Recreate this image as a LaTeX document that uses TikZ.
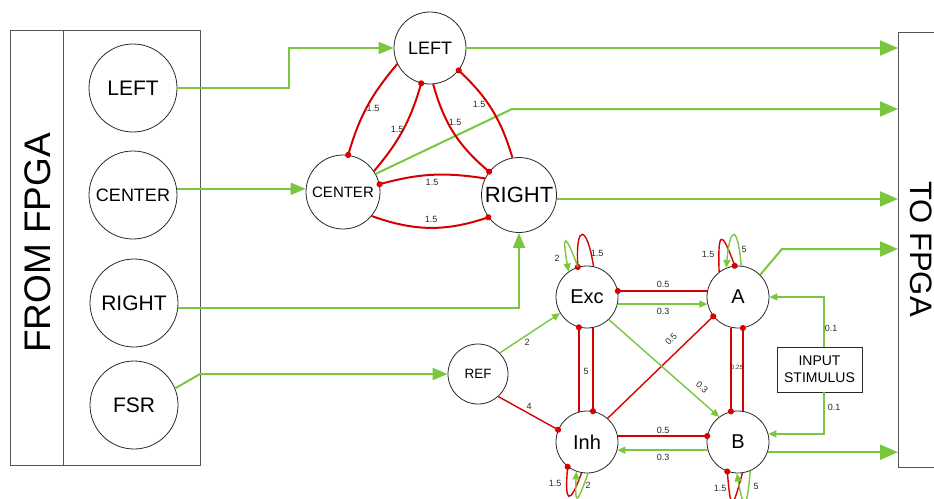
\documentclass[tikz,border=0pt]{standalone}
\usepackage{fontspec}
\setmainfont{Liberation Sans}
\usetikzlibrary{arrows.meta,calc}

\definecolor{syngreen}{RGB}{122,198,62}
\definecolor{synred}{RGB}{214,0,0}
\definecolor{ink}{RGB}{40,40,40}
\newcommand\fsz[1]{\fontsize{#1}{#1}\selectfont}

\begin{document}
\begin{tikzpicture}[x=1pt,y=1pt,
  neuron/.style={circle,draw=ink,line width=0.8pt,inner sep=0pt,text=black,fill=white},
  panel/.style={draw=ink!80,line width=0.9pt,inner sep=0pt},
  lbl/.style={font=\fsz{9},text=ink,inner sep=0pt},
  feed/.style={draw=syngreen,line width=2pt,-{Triangle[length=15pt,width=12pt]}},
  tofpga/.style={draw=syngreen,line width=2pt,-{Triangle[length=18pt,width=15pt]}},
  tri/.style={draw=synred,line width=2pt,-{Circle[length=6pt]},shorten >=-3pt},
  excs/.style={draw=syngreen,line width=1.4pt,-{Triangle[length=8pt,width=7pt]}},
  inhs/.style={draw=synred,line width=1.4pt,-{Circle[length=6pt]},shorten >=-3pt},
]
\useasboundingbox (0,0) rectangle (934,-498);

% FPGA blocks
\node[panel,minimum width=190pt,minimum height=435pt,anchor=north west] (from) at (10,-30) {};
\draw[panel] ([xshift=53pt]from.north west) -- ([xshift=53pt]from.south west);
\node[rotate=90,font=\fsz{37},inner sep=0pt] (fromlbl) at (37.5,-243) {FROM FPGA};
\node[panel,minimum width=60pt,minimum height=435pt,anchor=north west] (to) at (898,-32) {};
\node[rotate=-90,font=\fsz{31},inner sep=0pt] (tolbl) at (921,-249) {TO FPGA};

% input neurons driven by the FPGA
\node[neuron,minimum size=88pt,font=\fsz{21}] (inL) at (133,-88) {LEFT};
\node[neuron,minimum size=88pt,font=\fsz{18}] (inC) at (133,-195) {CENTER};
\node[neuron,minimum size=88pt,font=\fsz{21}] (inR) at (134,-303) {RIGHT};
\node[neuron,minimum size=88pt,font=\fsz{21}] (inF) at (134,-405) {FSR};

% winner-take-all triangle
\node[neuron,minimum size=72pt,font=\fsz{18}] (L) at (430,-48) {LEFT};
\node[neuron,minimum size=74pt,font=\fsz{15}] (C) at (343,-192) {CENTER};
\node[neuron,minimum size=75pt,font=\fsz{22}] (R) at (519,-195) {RIGHT};

% excitatory / inhibitory network
\node[neuron,minimum size=62pt,font=\fsz{20}] (Exc) at (587,-297) {Exc};
\node[neuron,minimum size=62pt,font=\fsz{20}] (A) at (738,-297) {A};
\node[neuron,minimum size=62pt,font=\fsz{20}] (Inh) at (587,-442) {Inh};
\node[neuron,minimum size=62pt,font=\fsz{20}] (B) at (738,-442) {B};
\node[neuron,minimum size=60pt,font=\fsz{13.5}] (REF) at (478,-374) {REF};
\node[draw=ink,line width=0.8pt,minimum width=85pt,minimum height=45pt,align=center,
      font=\fontsize{14}{17}\selectfont,inner sep=0pt,fill=white] (stim) at (819.5,-369.5) {INPUT\\STIMULUS};

% bend points
\coordinate (bL) at (289,-68);
\coordinate (bF) at (200,-374);
\coordinate (bC) at (512,-109);
\coordinate (bA) at (782,-249);

% inputs from the FPGA
\draw[feed] (inL.east) -| (bL) |- (L.west);
\draw[feed] (inC.8) -- (inC.8 -| C.west);
\draw[feed] (inR.-6) -| (R.south);
\draw[feed] (inF.22) -- (bF) -- (REF.west);

% outputs to the FPGA
\draw[tofpga] (L.east) -- (L.east -| to.west);
\draw[tofpga] (C.29) -- (bC) -- (bC -| to.west);
\draw[tofpga] (R.-6) -- (R.-6 -| to.west);
\draw[tofpga] (A.45) -- (bA) -- (bA -| to.west);
\draw[tofpga] (B.-19) -- (B.-19 -| to.west);

% mutual inhibition in the triangle
\draw[tri] (L.206) to[bend right=12] (C.82);
\draw[tri] (C.34) to[bend right=12] (L.256);
\draw[tri] (L.275) to[bend right=17] (R.142);
\draw[tri] (R.100) to[bend right=15] (L.322);
\draw[tri] (R.154) to[bend right=12] (C.12);
\draw[tri] (C.-40) to[bend right=19] (R.216);
\node[lbl] (t1) at (373,-108) {1.5};
\node[lbl] (t2) at (397,-129) {1.5};
\node[lbl] (t3) at (455,-122) {1.5};
\node[lbl] (t4) at (479,-104) {1.5};
\node[lbl] (t5) at (432,-182) {1.5};
\node[lbl] (t6) at (431,-219) {1.5};

% network synapses
\draw[inhs] (A.169) -- (Exc.11);
\draw[excs] (Exc.-13) -- (A.193);
\draw[inhs] (Inh.11) -- (B.169);
\draw[excs] (B.195) -- (Inh.-15);
\draw[inhs] (Inh.105) -- (Exc.255);
\draw[inhs] (Exc.281) -- (Inh.79);
\draw[inhs] (A.257) -- (B.103);
\draw[inhs] (B.81) -- (A.279);
\draw[inhs] (Inh.49) -- (A.218);
\draw[excs] (Exc.314) -- (B.127);
\draw[excs] (REF.44) -- (Exc.211);
\draw[inhs] (REF.312) -- (Inh.157);
\draw[excs] ([xshift=4.5pt]stim.north) |- (A.east);
\draw[excs] ([xshift=4.5pt]stim.south) |- (B.15);

% self connections
\draw[inhs] (Exc.78) to[out=99,in=93,distance=43pt] (Exc.107);
\draw[excs] (Exc.107) to[out=110,in=100,distance=38pt] (Exc.126);
\draw[inhs] (A.127) to[out=92,in=110,distance=40pt] (A.96);
\draw[excs] (A.84) to[out=95,in=85,distance=42pt] (A.112);
\draw[inhs] (Inh.260) to[out=250,in=265,distance=36pt] (Inh.232);
\draw[excs] (Inh.272) to[out=250,in=268,distance=34pt] (Inh.250);
\draw[inhs] (B.278) to[out=255,in=275,distance=40pt] (B.250);
\draw[excs] (B.293) to[out=265,in=280,distance=40pt] (B.268);

% weights
\node[lbl] (w1) at (663,-284) {0.5};
\node[lbl] (w2) at (663,-311) {0.3};
\node[lbl] (w3) at (663,-430) {0.5};
\node[lbl] (w4) at (663,-457) {0.3};
\node[lbl] (w5) at (586,-371) {5};
\node[lbl,font=\fsz{6}] (w6) at (737,-367) {0.25};
\node[lbl,rotate=45] (w7) at (671,-339) {0.5};
\node[lbl,rotate=-41] (w8) at (702,-387) {0.3};
\node[lbl] (w9) at (527,-342) {2};
\node[lbl] (w10) at (529,-406) {4};
\node[lbl] (w11) at (831,-328) {0.1};
\node[lbl] (w12) at (834,-407) {0.1};
\node[lbl] (s1) at (557,-258) {2};
\node[lbl] (s2) at (597,-253) {1.5};
\node[lbl] (s3) at (708,-254) {1.5};
\node[lbl] (s4) at (744,-249) {5};
\node[lbl] (s5) at (555,-483) {1.5};
\node[lbl] (s6) at (588,-485) {2};
\node[lbl] (s7) at (720,-488) {1.5};
\node[lbl] (s8) at (756,-486) {5};
\end{tikzpicture}
\end{document}
